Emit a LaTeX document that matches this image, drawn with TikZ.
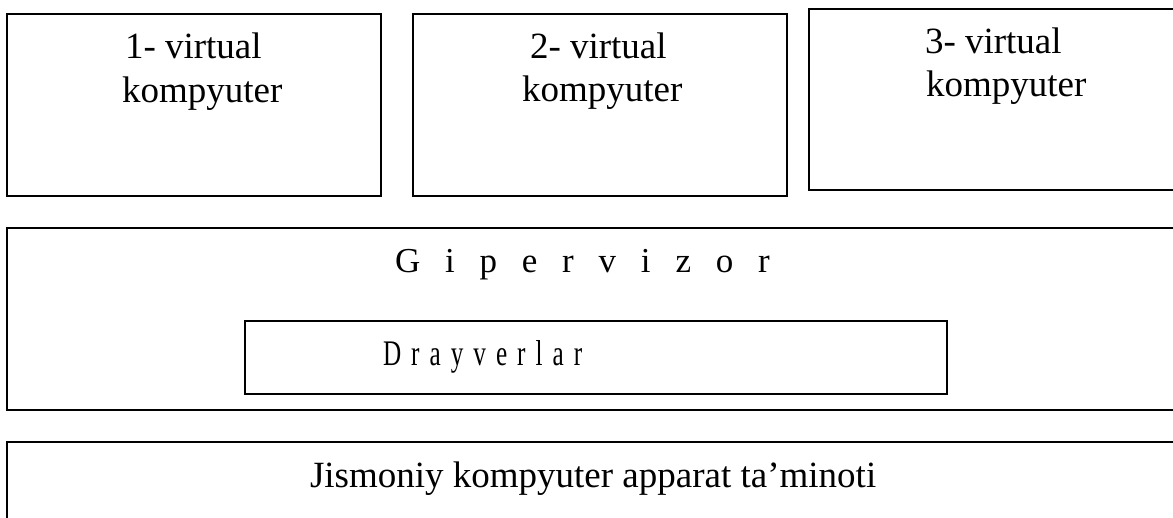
\documentclass[tikz,border=0pt]{standalone}
\usepackage{fontspec}
\usepackage{graphicx}
\setmainfont{Liberation Serif}
\newcommand{\hg}{\hspace{24.8pt}}
\newcommand{\dg}{\hspace{14.3pt}}
\begin{document}
\begin{tikzpicture}[x=1pt,y=-1pt,
  boxnode/.style={draw=black, line width=1.2pt, rectangle, inner sep=0pt, outer sep=0pt},
  txt/.style={inner sep=0pt, outer sep=0pt, anchor=base west, font=\fontsize{37}{44}\selectfont}]
\useasboundingbox (0,0) rectangle (1173,518);
\clip (0,0) rectangle (1173,518);
\fill[white] (0,0) rectangle (1173,518);
% virtual machine boxes
\node[boxnode, minimum width=374pt, minimum height=182pt] (vm1) at (194,105) {};
\node[boxnode, minimum width=374pt, minimum height=182pt] (vm2) at (600,105) {};
\node[boxnode, minimum width=371pt, minimum height=181pt] (vm3) at (994.5,99.5) {};
% hypervisor
\node[boxnode, minimum width=1173pt, minimum height=182pt] (hyp) at (593.5,319) {};
\node[boxnode, minimum width=702pt, minimum height=73pt] (drv) at (596,357.5) {};
% hardware
\node[boxnode, minimum width=1173pt, minimum height=98pt] (hw) at (593.5,491) {};
% texts
\node[txt] (t1a) at (125,59) {1- virtual};
\node[txt] (t1b) at (122,103) {kompyuter};
\node[txt] (t2a) at (530,59) {2- virtual};
\node[txt] (t2b) at (522,102) {kompyuter};
\node[txt] (t3a) at (925,54) {3- virtual};
\node[txt] (t3b) at (926,97) {kompyuter};
\node[txt, font=\fontsize{35}{42}\selectfont] (thyp) at (395,273) {G\hg i\hg p\hg e\hg r\hg v\hg i\hg z\hg o\hg r};
\node[txt, font=\fontsize{36}{42}\selectfont] (tdrv) at (383,366) {\scalebox{0.7}[1]{D\dg r\dg a\dg y\dg v\dg e\dg r\dg l\dg a\dg r}};
\node[txt] (thw) at (310,487) {Jismoniy kompyuter apparat ta’minoti};
\end{tikzpicture}
\end{document}
